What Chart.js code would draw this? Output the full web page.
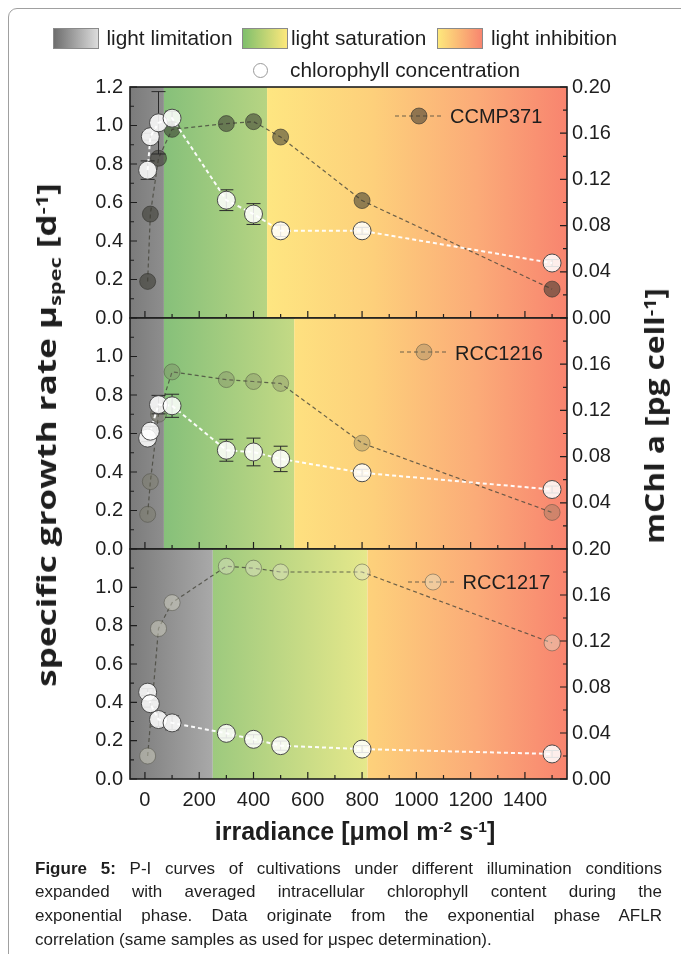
<!DOCTYPE html>
<html><head><meta charset="utf-8">
<script src="https://cdn.jsdelivr.net/npm/chart.js@4.4.1/dist/chart.umd.min.js"></script>
<style>
html,body{margin:0;padding:0;background:#fff;}
#page{position:relative;width:681px;height:954px;overflow:hidden;font-family:"Liberation Sans",Arial,sans-serif;color:#1e1e1e;}
.frame{position:absolute;left:8px;top:8px;width:720px;height:1000px;border:1px solid #a0a0a0;border-radius:9px;}
canvas.c{position:absolute;left:0;top:0;}
.t{position:absolute;white-space:nowrap;}
.lg{font-size:20.8px;line-height:24px;}
.box{position:absolute;width:46px;height:21px;box-sizing:border-box;border:1px solid #8a8a8a;}
.pl{font-size:20px;line-height:24px;}
.yt{font-family:"Open Sans","DejaVu Sans",sans-serif;font-weight:700;font-size:27px;line-height:32px;}
.xt{font-weight:700;font-size:25px;line-height:30px;transform:translateX(-50%);}
.sup{font-size:0.62em;position:relative;top:-0.5em;}
.sub{font-size:0.62em;position:relative;top:0.3em;}
.cap{position:absolute;left:35px;width:627px;font-size:17px;line-height:23.7px;text-align:justify;text-align-last:justify;white-space:nowrap;}
.cap.last{text-align:left;text-align-last:left;}
</style></head>
<body><div id="page">
<div class="frame"></div>
<canvas id="c1" class="c" width="681" height="954"></canvas>
<canvas id="c2" class="c" width="681" height="954"></canvas>
<canvas id="c3" class="c" width="681" height="954"></canvas>

<div class="box" style="left:53px;top:28px;background:linear-gradient(90deg,#6e6e6e,#dcdcdc)"></div>
<div class="t lg" style="left:106.5px;top:26.3px">light limitation</div>
<div class="box" style="left:241.5px;top:28px;background:linear-gradient(90deg,#7fbf6c,#fde87c)"></div>
<div class="t lg" style="left:291px;top:26.3px">light saturation</div>
<div class="box" style="left:437px;top:28px;background:linear-gradient(90deg,#fde87c,#f8856f)"></div>
<div class="t lg" style="left:491px;top:26.3px">light inhibition</div>
<div class="t" style="left:252.5px;top:62.5px;width:15px;height:15px;box-sizing:border-box;border:1.5px solid #9a9a9a;border-radius:50%;background:#fff"></div>
<div class="t lg" style="left:290px;top:57.5px">chlorophyll concentration</div>

<div class="t pl" style="left:450px;top:104.4px">CCMP371</div>
<div class="t pl" style="left:455px;top:341px">RCC1216</div>
<div class="t pl" style="left:462.5px;top:570.4px">RCC1217</div>

<div class="t yt" style="left:48px;top:435px;transform:translate(-50%,-50%) rotate(-90deg) scaleX(1.3)">specific growth rate μ<span class="sub">spec</span> [d<span class="sup">-1</span>]</div>
<div class="t yt" style="left:656px;top:416px;transform:translate(-50%,-50%) rotate(-90deg) scaleX(1.17)">mChl a [pg cell<span class="sup">-1</span>]</div>
<div class="t xt" style="left:355px;top:816px">irradiance [μmol m<span class="sup">-2</span> s<span class="sup">-1</span>]</div>

<div class="cap" style="top:856.7px"><b>Figure 5:</b> P-I curves of cultivations under different illumination conditions</div>
<div class="cap" style="top:880.4px">expanded with averaged intracellular chlorophyll content during the</div>
<div class="cap" style="top:904.1px">exponential phase. Data originate from the exponential phase AFLR</div>
<div class="cap last" style="top:927.8px">correlation (same samples as used for μspec determination).</div>
</div>
<script>
// ---- data ----
const irradiance = [10, 20, 50, 100, 300, 400, 500, 800, 1500];
const irradianceGrowthRCC1217 = [10, 50, 100, 300, 400, 500, 800, 1500];

const growthCCMP371 = [0.19, 0.54, 0.83, 0.98, 1.01, 1.02, 0.94, 0.61, 0.15];
const chlCCMP371    = [0.128, 0.157, 0.169, 0.173, 0.102, 0.090, 0.0755, 0.0755, 0.0476];
const chlErrCCMP371 = [0.008, 0.003, 0.027, 0.006, 0.009, 0.009, 0.005, 0.003, 0.003];

const growthRCC1216 = [0.18, 0.35, 0.70, 0.92, 0.88, 0.87, 0.86, 0.55, 0.19];
const chlRCC1216    = [0.096, 0.102, 0.125, 0.124, 0.0855, 0.084, 0.078, 0.066, 0.0515];
const chlErrRCC1216 = [0.003, 0.004, 0.008, 0.010, 0.0095, 0.012, 0.011, 0.003, 0.003];

const growthRCC1217 = [0.12, 0.785, 0.92, 1.11, 1.10, 1.08, 1.08, 0.71];
const chlRCC1217    = [0.0755, 0.0655, 0.0517, 0.0488, 0.0397, 0.0345, 0.029, 0.026, 0.0218];
const chlErrRCC1217 = [0.003, 0.003, 0.006, 0.006, 0.004, 0.004, 0.004, 0.003, 0.003];

// light regime limits [end of limitation, end of saturation] in µmol m-2 s-1
const regimesCCMP371 = [70, 450];
const regimesRCC1216 = [70, 550];
const regimesRCC1217 = [250, 820];

const xTickLabels = [0, 200, 400, 600, 800, 1000, 1200, 1400];
const xMinorTicks = [100, 300, 500, 700, 900, 1100, 1300, 1500];
const leftTicks = [0, 0.2, 0.4, 0.6, 0.8, 1.0, 1.2];
const rightTicks = [0, 0.04, 0.08, 0.12, 0.16, 0.20];
const xRange = [-55, 1555];

// ---- drawing ----
const FONT = {family: '"Liberation Sans", Arial, sans-serif', size: 20};
const INK = '#1e1e1e';

const deco = {
  id: 'deco',
  beforeDraw(chart, args, o) {
    const {ctx, chartArea: a, scales: {x}} = chart;
    const px = v => x.getPixelForValue(v);
    ctx.save();
    ctx.beginPath(); ctx.rect(a.left, a.top, a.right - a.left, a.bottom - a.top); ctx.clip();
    const b0 = a.left, b1 = px(o.reg[0]), b2 = px(o.reg[1]), b3 = a.right;
    let g = ctx.createLinearGradient(px(xRange[0]), 0, px(250), 0);
    g.addColorStop(0, '#7b7b7b'); g.addColorStop(1, '#a9a9a9');
    ctx.fillStyle = g; ctx.fillRect(b0, a.top, b1 - b0, a.bottom - a.top);
    g = ctx.createLinearGradient(px(70), 0, px(820), 0);
    g.addColorStop(0, '#86c07a'); g.addColorStop(1, '#e6e88b');
    ctx.fillStyle = g; ctx.fillRect(b1, a.top, b2 - b1, a.bottom - a.top);
    g = ctx.createLinearGradient(px(450), 0, px(xRange[1]), 0);
    g.addColorStop(0, '#fee681'); g.addColorStop(0.35, '#fdd07b');
    g.addColorStop(0.7, '#fbab78'); g.addColorStop(1, '#f8846f');
    ctx.fillStyle = g; ctx.fillRect(b2, a.top, b3 - b2, a.bottom - a.top);
    ctx.restore();
  },
  beforeDatasetDraw(chart, args, o) {
    if (args.index !== 1) return;
    const {ctx, scales: {x, yR}} = chart;
    ctx.save();
    ctx.strokeStyle = '#2a2a2a'; ctx.lineWidth = 1;
    o.chl.forEach((v, i) => {
      const cx = x.getPixelForValue(irradiance[i]);
      const y1 = yR.getPixelForValue(v + o.err[i]), y2 = yR.getPixelForValue(v - o.err[i]);
      ctx.beginPath();
      ctx.moveTo(cx, y1); ctx.lineTo(cx, y2);
      ctx.moveTo(cx - 7, y1); ctx.lineTo(cx + 7, y1);
      ctx.moveTo(cx - 7, y2); ctx.lineTo(cx + 7, y2);
      ctx.stroke();
    });
    ctx.restore();
  },
  afterDraw(chart, args, o) {
    const {ctx, chartArea: a, scales: {x, yL, yR}} = chart;
    ctx.save();
    ctx.strokeStyle = INK; ctx.lineWidth = 1.2;
    ctx.beginPath();
    for (let v = 0; v <= 12; v++) {
      const y = yL.getPixelForValue(v / 10), len = v % 2 ? 4 : 7;
      ctx.moveTo(a.left, y); ctx.lineTo(a.left + len, y);
    }
    for (let v = 0; v <= 10; v++) {
      const y = yR.getPixelForValue(v / 50), len = v % 2 ? 4 : 7;
      ctx.moveTo(a.right, y); ctx.lineTo(a.right - len, y);
    }
    xTickLabels.forEach(v => { const p = x.getPixelForValue(v); ctx.moveTo(p, a.bottom); ctx.lineTo(p, a.bottom - 7); });
    xMinorTicks.forEach(v => { const p = x.getPixelForValue(v); ctx.moveTo(p, a.bottom); ctx.lineTo(p, a.bottom - 4); });
    ctx.stroke();
    ctx.lineWidth = 1.6;
    ctx.strokeRect(a.left, a.top, a.right - a.left, a.bottom - a.top);
    // legend sample
    const L = o.legend;
    ctx.setLineDash([4, 3]); ctx.lineWidth = 1.2; ctx.strokeStyle = 'rgba(70,70,60,0.8)';
    ctx.beginPath(); ctx.moveTo(L[0], L[3]); ctx.lineTo(L[1], L[3]); ctx.stroke();
    ctx.setLineDash([]);
    ctx.beginPath(); ctx.arc(L[2], L[3], 8, 0, Math.PI * 2);
    ctx.fillStyle = o.fill; ctx.fill(); ctx.strokeStyle = o.stroke; ctx.lineWidth = 1; ctx.stroke();
    ctx.restore();
  }
};

function fmt(list, digits) {
  return v => list.some(t => Math.abs(t - v) < 1e-6) ? Number(v).toFixed(digits) : '';
}

function panel(id, gx, growth, chl, err, reg, area, opt) {
  new Chart(document.getElementById(id), {
    type: 'line',
    data: {
      datasets: [
        {
          data: gx.map((x, i) => ({x, y: growth[i]})), yAxisID: 'yL', order: 2,
          borderColor: 'rgba(70,70,60,0.8)', borderWidth: 1.2, borderDash: [4, 3],
          pointRadius: 8, pointBackgroundColor: opt.fill, pointBorderColor: opt.stroke, pointBorderWidth: 1
        },
        {
          data: irradiance.map((x, i) => ({x, y: chl[i]})), yAxisID: 'yR', order: 1,
          borderColor: 'rgba(255,255,255,0.95)', borderWidth: 2, borderDash: [4, 3],
          pointRadius: 9, pointBackgroundColor: 'rgba(255,255,255,0.86)', pointBorderColor: '#4a4a4a', pointBorderWidth: 1
        }
      ]
    },
    options: {
      responsive: false, animation: false, events: [], devicePixelRatio: 1,
      layout: {padding: {left: 0, right: 0, top: area[0], bottom: 954 - area[1] - (opt.showX ? 40 : 0)}},
      plugins: {legend: {display: false}, tooltip: {enabled: false},
        deco: {reg, chl, err, legend: opt.legend, fill: opt.fill, stroke: opt.stroke}},
      scales: {
        x: {
          type: 'linear', min: xRange[0], max: xRange[1], display: opt.showX,
          afterBuildTicks: s => { s.ticks = xTickLabels.map(value => ({value})); },
          afterFit: s => { s.height = opt.showX ? 40 : 0; },
          grid: {display: false, drawTicks: false}, border: {display: false},
          ticks: {font: FONT, color: INK, padding: 9, maxRotation: 0, autoSkip: false, callback: v => String(v)}
        },
        yL: {
          type: 'linear', position: 'left', min: 0, max: 1.2,
          afterFit: s => { s.width = 130; },
          grid: {display: false, drawTicks: false}, border: {display: false},
          ticks: {stepSize: 0.2, font: FONT, color: INK, padding: 7, callback: fmt(opt.leftShow, 1)}
        },
        yR: {
          type: 'linear', position: 'right', min: 0, max: 0.2,
          afterFit: s => { s.width = 114; },
          grid: {display: false, drawTicks: false}, border: {display: false},
          ticks: {stepSize: 0.04, font: FONT, color: INK, padding: 5, callback: fmt(opt.rightShow, 2)}
        }
      }
    },
    plugins: [deco]
  });
}

panel('c1', irradiance, growthCCMP371, chlCCMP371, chlErrCCMP371, regimesCCMP371, [87, 318], {
  showX: false, leftShow: leftTicks, rightShow: rightTicks,
  fill: 'rgba(55,55,45,0.55)', stroke: 'rgba(50,50,45,0.6)', legend: [395, 443, 419, 116]
});
panel('c2', irradiance, growthRCC1216, chlRCC1216, chlErrRCC1216, regimesRCC1216, [318, 549], {
  showX: false, leftShow: leftTicks.slice(0, 6), rightShow: rightTicks.slice(1, 5),
  fill: 'rgba(120,120,95,0.32)', stroke: 'rgba(70,70,60,0.45)', legend: [400, 448, 424, 352]
});
panel('c3', irradianceGrowthRCC1217, growthRCC1217, chlRCC1217, chlErrRCC1217, regimesRCC1217, [549, 779], {
  showX: true, leftShow: leftTicks.slice(0, 6), rightShow: rightTicks,
  fill: 'rgba(225,225,205,0.42)', stroke: 'rgba(80,80,70,0.5)', legend: [408, 457, 433, 582]
});
</script>
</body></html>
